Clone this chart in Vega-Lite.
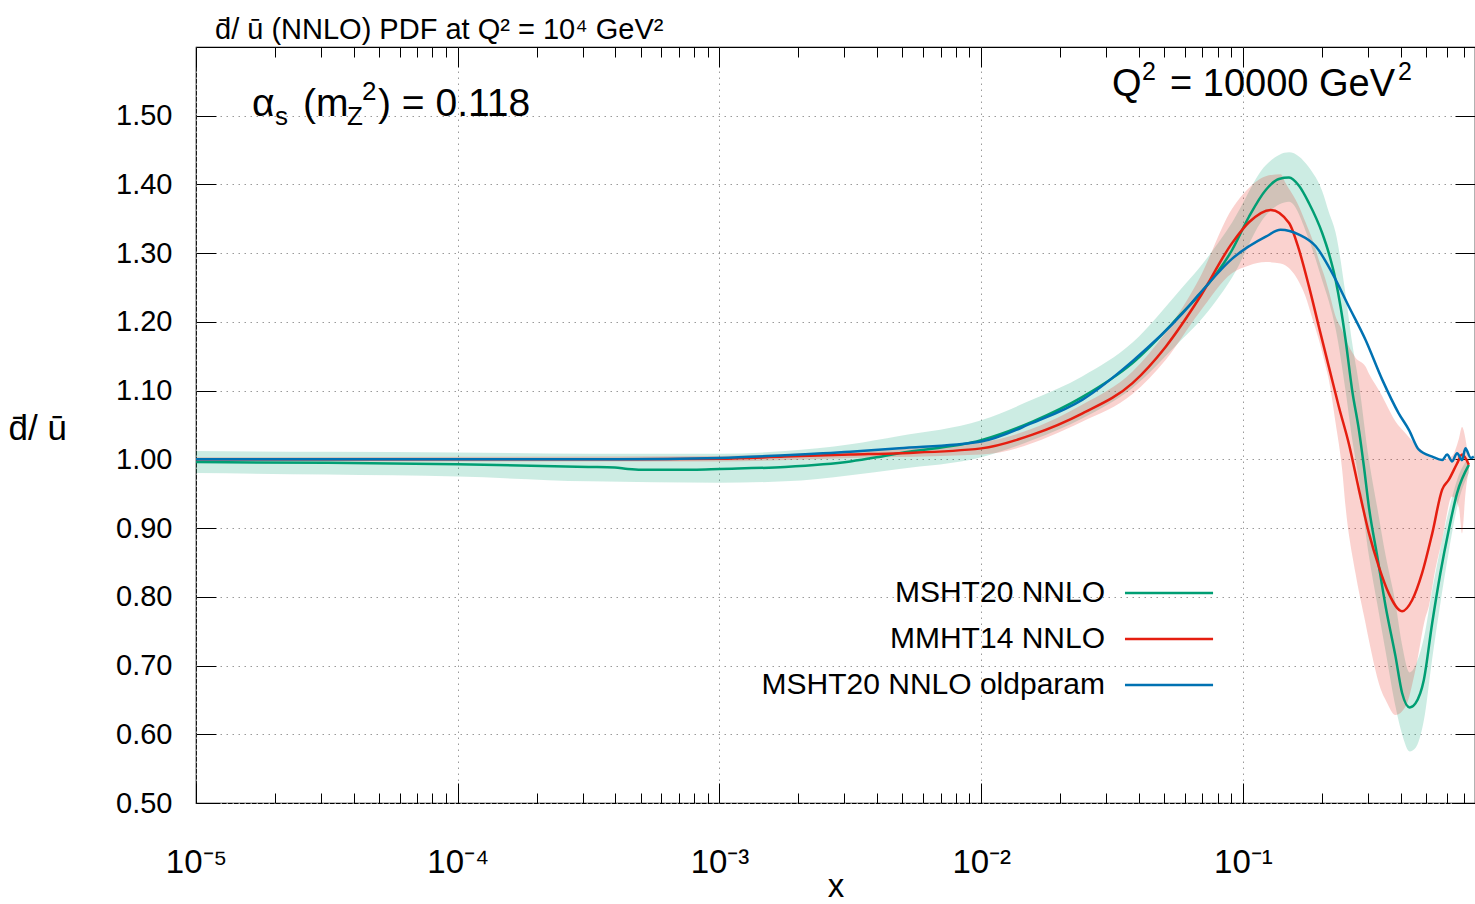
{
  "$schema": "https://vega.github.io/schema/vega-lite/v6.json",
  "autosize": {"type": "none"},
  "padding": {"left": 196, "top": 47, "right": 0, "bottom": 101},
  "width": 1279,
  "height": 756,
  "title": {"text": "d\u0304/ \u016b (NNLO) PDF at Q\u00b2 = 10\u2074 GeV\u00b2", "anchor": "start", "frame": "group", "dx": 19, "offset": -21, "baseline": "alphabetic", "fontSize": 29, "fontWeight": "normal", "color": "black", "font": "Liberation Sans"},
  "config": {
    "view": {"stroke": "black", "strokeWidth": 1.2},
    "axis": {"labelFont": "Liberation Sans", "titleFont": "Liberation Sans", "labelColor": "black", "titleColor": "black", "titleFontWeight": "normal"},
    "text": {"font": "Liberation Sans", "color": "black"}
  },
  "datasets": {
    "curves": [
      {"series": "MSHT20 NNLO", "x": 1e-5, "y": 0.996},
      {"series": "MSHT20 NNLO", "x": 3.162e-5, "y": 0.995},
      {"series": "MSHT20 NNLO", "x": 1e-4, "y": 0.993},
      {"series": "MSHT20 NNLO", "x": 3.162e-4, "y": 0.989},
      {"series": "MSHT20 NNLO", "x": 3.981e-4, "y": 0.988},
      {"series": "MSHT20 NNLO", "x": 4.467e-4, "y": 0.986},
      {"series": "MSHT20 NNLO", "x": 5.012e-4, "y": 0.985},
      {"series": "MSHT20 NNLO", "x": 7.943e-4, "y": 0.985},
      {"series": "MSHT20 NNLO", "x": 1e-3, "y": 0.986},
      {"series": "MSHT20 NNLO", "x": 1.778e-3, "y": 0.989},
      {"series": "MSHT20 NNLO", "x": 3.162e-3, "y": 0.997},
      {"series": "MSHT20 NNLO", "x": 3.981e-3, "y": 1.003},
      {"series": "MSHT20 NNLO", "x": 4.864e-3, "y": 1.009},
      {"series": "MSHT20 NNLO", "x": 0.01, "y": 1.028},
      {"series": "MSHT20 NNLO", "x": 0.0157, "y": 1.055},
      {"series": "MSHT20 NNLO", "x": 0.02438, "y": 1.091},
      {"series": "MSHT20 NNLO", "x": 0.03784, "y": 1.140},
      {"series": "MSHT20 NNLO", "x": 0.05861, "y": 1.213},
      {"series": "MSHT20 NNLO", "x": 0.06792, "y": 1.239},
      {"series": "MSHT20 NNLO", "x": 0.09099, "y": 1.305},
      {"series": "MSHT20 NNLO", "x": 0.1054, "y": 1.353},
      {"series": "MSHT20 NNLO", "x": 0.1222, "y": 1.392},
      {"series": "MSHT20 NNLO", "x": 0.1371, "y": 1.408},
      {"series": "MSHT20 NNLO", "x": 0.15, "y": 1.410},
      {"series": "MSHT20 NNLO", "x": 0.1637, "y": 1.398},
      {"series": "MSHT20 NNLO", "x": 0.1786, "y": 1.373},
      {"series": "MSHT20 NNLO", "x": 0.2009, "y": 1.329},
      {"series": "MSHT20 NNLO", "x": 0.2128, "y": 1.300},
      {"series": "MSHT20 NNLO", "x": 0.2259, "y": 1.261},
      {"series": "MSHT20 NNLO", "x": 0.236, "y": 1.222},
      {"series": "MSHT20 NNLO", "x": 0.2466, "y": 1.174},
      {"series": "MSHT20 NNLO", "x": 0.2612, "y": 1.101},
      {"series": "MSHT20 NNLO", "x": 0.2773, "y": 1.043},
      {"series": "MSHT20 NNLO", "x": 0.2897, "y": 0.990},
      {"series": "MSHT20 NNLO", "x": 0.3027, "y": 0.931},
      {"series": "MSHT20 NNLO", "x": 0.3258, "y": 0.859},
      {"series": "MSHT20 NNLO", "x": 0.3508, "y": 0.786},
      {"series": "MSHT20 NNLO", "x": 0.3828, "y": 0.713},
      {"series": "MSHT20 NNLO", "x": 0.4055, "y": 0.660},
      {"series": "MSHT20 NNLO", "x": 0.4335, "y": 0.639},
      {"series": "MSHT20 NNLO", "x": 0.456, "y": 0.645},
      {"series": "MSHT20 NNLO", "x": 0.4909, "y": 0.679},
      {"series": "MSHT20 NNLO", "x": 0.5284, "y": 0.762},
      {"series": "MSHT20 NNLO", "x": 0.5675, "y": 0.834},
      {"series": "MSHT20 NNLO", "x": 0.6109, "y": 0.897},
      {"series": "MSHT20 NNLO", "x": 0.6577, "y": 0.951},
      {"series": "MSHT20 NNLO", "x": 0.7295, "y": 0.992},

      {"series": "MMHT14 NNLO", "x": 1e-5, "y": 1.000},
      {"series": "MMHT14 NNLO", "x": 1e-4, "y": 1.000},
      {"series": "MMHT14 NNLO", "x": 3.981e-4, "y": 1.000},
      {"series": "MMHT14 NNLO", "x": 1e-3, "y": 1.001},
      {"series": "MMHT14 NNLO", "x": 1.778e-3, "y": 1.004},
      {"series": "MMHT14 NNLO", "x": 3.162e-3, "y": 1.007},
      {"series": "MMHT14 NNLO", "x": 4.864e-3, "y": 1.009},
      {"series": "MMHT14 NNLO", "x": 0.01, "y": 1.016},
      {"series": "MMHT14 NNLO", "x": 0.0157, "y": 1.036},
      {"series": "MMHT14 NNLO", "x": 0.02438, "y": 1.067},
      {"series": "MMHT14 NNLO", "x": 0.03784, "y": 1.111},
      {"series": "MMHT14 NNLO", "x": 0.0507, "y": 1.164},
      {"series": "MMHT14 NNLO", "x": 0.06792, "y": 1.234},
      {"series": "MMHT14 NNLO", "x": 0.09099, "y": 1.315},
      {"series": "MMHT14 NNLO", "x": 0.1054, "y": 1.345},
      {"series": "MMHT14 NNLO", "x": 0.1276, "y": 1.363},
      {"series": "MMHT14 NNLO", "x": 0.15, "y": 1.344},
      {"series": "MMHT14 NNLO", "x": 0.1637, "y": 1.305},
      {"series": "MMHT14 NNLO", "x": 0.1786, "y": 1.252},
      {"series": "MMHT14 NNLO", "x": 0.195, "y": 1.193},
      {"series": "MMHT14 NNLO", "x": 0.2128, "y": 1.135},
      {"series": "MMHT14 NNLO", "x": 0.2323, "y": 1.077},
      {"series": "MMHT14 NNLO", "x": 0.2541, "y": 1.022},
      {"series": "MMHT14 NNLO", "x": 0.2773, "y": 0.956},
      {"series": "MMHT14 NNLO", "x": 0.3027, "y": 0.893},
      {"series": "MMHT14 NNLO", "x": 0.3304, "y": 0.844},
      {"series": "MMHT14 NNLO", "x": 0.3606, "y": 0.805},
      {"series": "MMHT14 NNLO", "x": 0.4055, "y": 0.779},
      {"series": "MMHT14 NNLO", "x": 0.4426, "y": 0.795},
      {"series": "MMHT14 NNLO", "x": 0.4831, "y": 0.834},
      {"series": "MMHT14 NNLO", "x": 0.5284, "y": 0.892},
      {"series": "MMHT14 NNLO", "x": 0.5768, "y": 0.956},
      {"series": "MMHT14 NNLO", "x": 0.6109, "y": 0.970},
      {"series": "MMHT14 NNLO", "x": 0.6577, "y": 0.994},
      {"series": "MMHT14 NNLO", "x": 0.6871, "y": 1.007},
      {"series": "MMHT14 NNLO", "x": 0.7295, "y": 0.992},

      {"series": "MSHT20 NNLO oldparam", "x": 1e-5, "y": 1.000},
      {"series": "MSHT20 NNLO oldparam", "x": 1e-4, "y": 1.000},
      {"series": "MSHT20 NNLO oldparam", "x": 3.981e-4, "y": 1.000},
      {"series": "MSHT20 NNLO oldparam", "x": 1e-3, "y": 1.002},
      {"series": "MSHT20 NNLO oldparam", "x": 1.778e-3, "y": 1.006},
      {"series": "MSHT20 NNLO oldparam", "x": 3.162e-3, "y": 1.011},
      {"series": "MSHT20 NNLO oldparam", "x": 4.864e-3, "y": 1.016},
      {"series": "MSHT20 NNLO oldparam", "x": 0.01, "y": 1.026},
      {"series": "MSHT20 NNLO oldparam", "x": 0.0157, "y": 1.053},
      {"series": "MSHT20 NNLO oldparam", "x": 0.02438, "y": 1.087},
      {"series": "MSHT20 NNLO oldparam", "x": 0.03784, "y": 1.143},
      {"series": "MSHT20 NNLO oldparam", "x": 0.05861, "y": 1.212},
      {"series": "MSHT20 NNLO oldparam", "x": 0.06792, "y": 1.240},
      {"series": "MSHT20 NNLO oldparam", "x": 0.09099, "y": 1.292},
      {"series": "MSHT20 NNLO oldparam", "x": 0.1222, "y": 1.324},
      {"series": "MSHT20 NNLO oldparam", "x": 0.1393, "y": 1.334},
      {"series": "MSHT20 NNLO oldparam", "x": 0.1637, "y": 1.327},
      {"series": "MSHT20 NNLO oldparam", "x": 0.1897, "y": 1.310},
      {"series": "MSHT20 NNLO oldparam", "x": 0.2193, "y": 1.271},
      {"series": "MSHT20 NNLO oldparam", "x": 0.2541, "y": 1.222},
      {"series": "MSHT20 NNLO oldparam", "x": 0.2938, "y": 1.174},
      {"series": "MSHT20 NNLO oldparam", "x": 0.3404, "y": 1.116},
      {"series": "MSHT20 NNLO oldparam", "x": 0.3936, "y": 1.067},
      {"series": "MSHT20 NNLO oldparam", "x": 0.4305, "y": 1.043},
      {"series": "MSHT20 NNLO oldparam", "x": 0.4699, "y": 1.014},
      {"series": "MSHT20 NNLO oldparam", "x": 0.5284, "y": 1.004},
      {"series": "MSHT20 NNLO oldparam", "x": 0.5768, "y": 0.999},
      {"series": "MSHT20 NNLO oldparam", "x": 0.6026, "y": 1.007},
      {"series": "MSHT20 NNLO oldparam", "x": 0.6295, "y": 0.997},
      {"series": "MSHT20 NNLO oldparam", "x": 0.6577, "y": 1.009},
      {"series": "MSHT20 NNLO oldparam", "x": 0.6871, "y": 0.999},
      {"series": "MSHT20 NNLO oldparam", "x": 0.7079, "y": 1.016},
      {"series": "MSHT20 NNLO oldparam", "x": 0.7413, "y": 1.002},
      {"series": "MSHT20 NNLO oldparam", "x": 0.7621, "y": 1.004}
    ],
    "bands": [
      {"series": "MSHT20 NNLO", "x": 1e-5, "lo": 0.980, "hi": 1.012},
      {"series": "MSHT20 NNLO", "x": 3.162e-5, "lo": 0.978, "hi": 1.011},
      {"series": "MSHT20 NNLO", "x": 1e-4, "lo": 0.975, "hi": 1.010},
      {"series": "MSHT20 NNLO", "x": 3.162e-4, "lo": 0.968, "hi": 1.008},
      {"series": "MSHT20 NNLO", "x": 1e-3, "lo": 0.966, "hi": 1.008},
      {"series": "MSHT20 NNLO", "x": 1.778e-3, "lo": 0.968, "hi": 1.012},
      {"series": "MSHT20 NNLO", "x": 3.162e-3, "lo": 0.977, "hi": 1.022},
      {"series": "MSHT20 NNLO", "x": 4.864e-3, "lo": 0.986, "hi": 1.034},
      {"series": "MSHT20 NNLO", "x": 0.01, "lo": 1.003, "hi": 1.057},
      {"series": "MSHT20 NNLO", "x": 0.0157, "lo": 1.028, "hi": 1.087},
      {"series": "MSHT20 NNLO", "x": 0.02438, "lo": 1.060, "hi": 1.121},
      {"series": "MSHT20 NNLO", "x": 0.03784, "lo": 1.104, "hi": 1.170},
      {"series": "MSHT20 NNLO", "x": 0.05861, "lo": 1.175, "hi": 1.250},
      {"series": "MSHT20 NNLO", "x": 0.06792, "lo": 1.200, "hi": 1.278},
      {"series": "MSHT20 NNLO", "x": 0.09099, "lo": 1.265, "hi": 1.345},
      {"series": "MSHT20 NNLO", "x": 0.1222, "lo": 1.355, "hi": 1.428},
      {"series": "MSHT20 NNLO", "x": 0.15, "lo": 1.375, "hi": 1.447},
      {"series": "MSHT20 NNLO", "x": 0.1786, "lo": 1.32, "hi": 1.425},
      {"series": "MSHT20 NNLO", "x": 0.2009, "lo": 1.26, "hi": 1.39},
      {"series": "MSHT20 NNLO", "x": 0.2128, "lo": 1.23, "hi": 1.36},
      {"series": "MSHT20 NNLO", "x": 0.2259, "lo": 1.19, "hi": 1.33},
      {"series": "MSHT20 NNLO", "x": 0.2466, "lo": 1.10, "hi": 1.24},
      {"series": "MSHT20 NNLO", "x": 0.2612, "lo": 1.03, "hi": 1.17},
      {"series": "MSHT20 NNLO", "x": 0.2773, "lo": 0.97, "hi": 1.11},
      {"series": "MSHT20 NNLO", "x": 0.3027, "lo": 0.86, "hi": 1.00},
      {"series": "MSHT20 NNLO", "x": 0.3258, "lo": 0.79, "hi": 0.93},
      {"series": "MSHT20 NNLO", "x": 0.3508, "lo": 0.72, "hi": 0.86},
      {"series": "MSHT20 NNLO", "x": 0.3828, "lo": 0.64, "hi": 0.79},
      {"series": "MSHT20 NNLO", "x": 0.4055, "lo": 0.60, "hi": 0.73},
      {"series": "MSHT20 NNLO", "x": 0.4335, "lo": 0.575, "hi": 0.69},
      {"series": "MSHT20 NNLO", "x": 0.456, "lo": 0.58, "hi": 0.70},
      {"series": "MSHT20 NNLO", "x": 0.4909, "lo": 0.62, "hi": 0.74},
      {"series": "MSHT20 NNLO", "x": 0.5284, "lo": 0.71, "hi": 0.81},
      {"series": "MSHT20 NNLO", "x": 0.5675, "lo": 0.79, "hi": 0.87},
      {"series": "MSHT20 NNLO", "x": 0.6109, "lo": 0.865, "hi": 0.925},
      {"series": "MSHT20 NNLO", "x": 0.6577, "lo": 0.93, "hi": 0.97},
      {"series": "MSHT20 NNLO", "x": 0.7295, "lo": 0.98, "hi": 1.003},

      {"series": "MMHT14 NNLO", "x": 1e-5, "lo": 0.997, "hi": 1.003},
      {"series": "MMHT14 NNLO", "x": 1e-3, "lo": 0.997, "hi": 1.005},
      {"series": "MMHT14 NNLO", "x": 3.162e-3, "lo": 1.002, "hi": 1.012},
      {"series": "MMHT14 NNLO", "x": 0.01, "lo": 1.007, "hi": 1.025},
      {"series": "MMHT14 NNLO", "x": 0.02438, "lo": 1.055, "hi": 1.080},
      {"series": "MMHT14 NNLO", "x": 0.03784, "lo": 1.095, "hi": 1.128},
      {"series": "MMHT14 NNLO", "x": 0.0507, "lo": 1.145, "hi": 1.185},
      {"series": "MMHT14 NNLO", "x": 0.06792, "lo": 1.213, "hi": 1.262},
      {"series": "MMHT14 NNLO", "x": 0.09099, "lo": 1.271, "hi": 1.365},
      {"series": "MMHT14 NNLO", "x": 0.1054, "lo": 1.282, "hi": 1.395},
      {"series": "MMHT14 NNLO", "x": 0.1222, "lo": 1.287, "hi": 1.412},
      {"series": "MMHT14 NNLO", "x": 0.1393, "lo": 1.285, "hi": 1.415},
      {"series": "MMHT14 NNLO", "x": 0.1455, "lo": 1.282, "hi": 1.402},
      {"series": "MMHT14 NNLO", "x": 0.1637, "lo": 1.258, "hi": 1.368},
      {"series": "MMHT14 NNLO", "x": 0.1734, "lo": 1.237, "hi": 1.345},
      {"series": "MMHT14 NNLO", "x": 0.1841, "lo": 1.205, "hi": 1.320},
      {"series": "MMHT14 NNLO", "x": 0.195, "lo": 1.174, "hi": 1.290},
      {"series": "MMHT14 NNLO", "x": 0.207, "lo": 1.135, "hi": 1.261},
      {"series": "MMHT14 NNLO", "x": 0.2128, "lo": 1.116, "hi": 1.245},
      {"series": "MMHT14 NNLO", "x": 0.2259, "lo": 1.053, "hi": 1.208},
      {"series": "MMHT14 NNLO", "x": 0.2393, "lo": 0.985, "hi": 1.188},
      {"series": "MMHT14 NNLO", "x": 0.2466, "lo": 0.931, "hi": 1.175},
      {"series": "MMHT14 NNLO", "x": 0.2692, "lo": 0.834, "hi": 1.148},
      {"series": "MMHT14 NNLO", "x": 0.2938, "lo": 0.762, "hi": 1.135},
      {"series": "MMHT14 NNLO", "x": 0.3027, "lo": 0.737, "hi": 1.125},
      {"series": "MMHT14 NNLO", "x": 0.3404, "lo": 0.660, "hi": 1.092},
      {"series": "MMHT14 NNLO", "x": 0.3508, "lo": 0.650, "hi": 1.082},
      {"series": "MMHT14 NNLO", "x": 0.3828, "lo": 0.628, "hi": 1.055},
      {"series": "MMHT14 NNLO", "x": 0.4178, "lo": 0.640, "hi": 1.038},
      {"series": "MMHT14 NNLO", "x": 0.456, "lo": 0.694, "hi": 1.022},
      {"series": "MMHT14 NNLO", "x": 0.4977, "lo": 0.770, "hi": 1.009},
      {"series": "MMHT14 NNLO", "x": 0.5129, "lo": 0.786, "hi": 1.005},
      {"series": "MMHT14 NNLO", "x": 0.5433, "lo": 0.840, "hi": 1.000},
      {"series": "MMHT14 NNLO", "x": 0.5768, "lo": 0.883, "hi": 1.000},
      {"series": "MMHT14 NNLO", "x": 0.6295, "lo": 0.946, "hi": 1.005},
      {"series": "MMHT14 NNLO", "x": 0.6683, "lo": 0.930, "hi": 1.030},
      {"series": "MMHT14 NNLO", "x": 0.6871, "lo": 0.892, "hi": 1.047},
      {"series": "MMHT14 NNLO", "x": 0.7079, "lo": 0.950, "hi": 1.030},
      {"series": "MMHT14 NNLO", "x": 0.7295, "lo": 0.985, "hi": 0.995}
    ]
  },
  "resolve": {"axis": {"x": "independent", "y": "independent"}},
  "layer": [
    {
      "data": {"name": "bands"},
      "transform": [{"filter": "datum.series === 'MSHT20 NNLO'"}],
      "mark": {"type": "area", "color": "#009e73", "opacity": 0.2, "clip": true, "interpolate": "monotone"},
      "encoding": {
        "x": {"field": "x", "type": "quantitative", "scale": {"type": "log", "domain": [1e-5, 0.77], "nice": false},
          "axis": {"orient": "bottom", "values": [1e-5, 1e-4, 1e-3, 0.01, 0.1],
            "labelExpr": "datum.value < 5e-5 ? '10\u207b\u2075' : datum.value < 5e-4 ? '10\u207b\u2074' : datum.value < 5e-3 ? '10\u207b\u00b3' : datum.value < 5e-2 ? '10\u207b\u00b2' : '10\u207b\u00b9'",
            "labelFontSize": 33, "labelBaseline": "alphabetic", "labelPadding": 69, "labelFlush": false, "labelOverlap": false,
            "ticks": false, "domain": false, "grid": true, "gridDash": [1.5, 4.5], "gridColor": "#9a9a9a", "gridWidth": 1,
            "title": "x", "titleFontSize": 33, "titleBaseline": "alphabetic", "titleY": 93}},
        "y": {"field": "lo", "type": "quantitative", "scale": {"domain": [0.5, 1.6], "nice": false, "zero": false},
          "axis": {"orient": "left", "values": [0.5, 0.6, 0.7, 0.8, 0.9, 1.0, 1.1, 1.2, 1.3, 1.4, 1.5], "format": ".2f",
            "labelFontSize": 29, "labelPadding": 24, "labelFlush": false, "labelOverlap": false,
            "ticks": false, "domain": false, "grid": true, "gridDash": [1.5, 4.5], "gridColor": "#9a9a9a", "gridWidth": 1,
            "title": "d\u0304/ \u016b", "titleAngle": 0, "titleFontSize": 35, "titleAlign": "left", "titleBaseline": "middle", "titleX": -188, "titleY": 381}},
        "y2": {"field": "hi"}
      }
    },
    {
      "data": {"name": "bands"},
      "transform": [{"filter": "datum.series === 'MMHT14 NNLO'"}],
      "mark": {"type": "area", "color": "#e51e10", "opacity": 0.2, "clip": true, "interpolate": "monotone"},
      "encoding": {
        "x": {"field": "x", "type": "quantitative",
          "axis": {"orient": "bottom", "values": [1e-5,2e-5,3e-5,4e-5,5e-5,6e-5,7e-5,8e-5,9e-5,1e-4,2e-4,3e-4,4e-4,5e-4,6e-4,7e-4,8e-4,9e-4,1e-3,2e-3,3e-3,4e-3,5e-3,6e-3,7e-3,8e-3,9e-3,0.01,0.02,0.03,0.04,0.05,0.06,0.07,0.08,0.09,0.1,0.2,0.3,0.4,0.5,0.6,0.7],
            "labels": false, "domain": false, "grid": false, "ticks": true, "tickColor": "black", "tickWidth": 1,
            "tickSize": {"condition": {"test": "abs(log(datum.value)/LN10 - round(log(datum.value)/LN10)) < 0.001", "value": -20}, "value": -10},
            "title": null}},
        "y": {"field": "lo", "type": "quantitative",
          "axis": {"orient": "left", "values": [0.5, 0.6, 0.7, 0.8, 0.9, 1.0, 1.1, 1.2, 1.3, 1.4, 1.5],
            "labels": false, "domain": false, "grid": false, "ticks": true, "tickColor": "black", "tickWidth": 1, "tickSize": -20, "title": null}},
        "y2": {"field": "hi"}
      }
    },
    {
      "data": {"name": "curves"},
      "transform": [{"filter": "datum.series === 'MSHT20 NNLO'"}],
      "mark": {"type": "line", "color": "#009e73", "strokeWidth": 2.5, "clip": true, "interpolate": "monotone"},
      "encoding": {
        "x": {"field": "x", "type": "quantitative",
          "axis": {"orient": "top", "values": [1e-5,2e-5,3e-5,4e-5,5e-5,6e-5,7e-5,8e-5,9e-5,1e-4,2e-4,3e-4,4e-4,5e-4,6e-4,7e-4,8e-4,9e-4,1e-3,2e-3,3e-3,4e-3,5e-3,6e-3,7e-3,8e-3,9e-3,0.01,0.02,0.03,0.04,0.05,0.06,0.07,0.08,0.09,0.1,0.2,0.3,0.4,0.5,0.6,0.7],
            "labels": false, "domain": false, "grid": false, "ticks": true, "tickColor": "black", "tickWidth": 1,
            "tickSize": {"condition": {"test": "abs(log(datum.value)/LN10 - round(log(datum.value)/LN10)) < 0.001", "value": -20}, "value": -10},
            "title": null}},
        "y": {"field": "y", "type": "quantitative",
          "axis": {"orient": "right", "values": [0.5, 0.6, 0.7, 0.8, 0.9, 1.0, 1.1, 1.2, 1.3, 1.4, 1.5],
            "labels": false, "domain": false, "grid": false, "ticks": true, "tickColor": "black", "tickWidth": 1, "tickSize": -20, "title": null}}
      }
    },
    {
      "data": {"name": "curves"},
      "transform": [{"filter": "datum.series === 'MMHT14 NNLO'"}],
      "mark": {"type": "line", "color": "#e51e10", "strokeWidth": 2.5, "clip": true, "interpolate": "monotone"},
      "encoding": {
        "x": {"field": "x", "type": "quantitative", "axis": null},
        "y": {"field": "y", "type": "quantitative", "axis": null}
      }
    },
    {
      "data": {"name": "curves"},
      "transform": [{"filter": "datum.series === 'MSHT20 NNLO oldparam'"}],
      "mark": {"type": "line", "color": "#0072b2", "strokeWidth": 2.5, "clip": true, "interpolate": "monotone"},
      "encoding": {
        "x": {"field": "x", "type": "quantitative", "axis": null},
        "y": {"field": "y", "type": "quantitative", "axis": null}
      }
    },
    {
      "data": {"values": [{}]},
      "mark": {"type": "text", "text": "MSHT20 NNLO", "align": "right", "baseline": "middle", "fontSize": 30},
      "encoding": {"x": {"datum": 0.02971, "type": "quantitative", "axis": null}, "y": {"datum": 0.8057, "type": "quantitative", "axis": null}}
    },
    {
      "data": {"values": [{}]},
      "mark": {"type": "text", "text": "MMHT14 NNLO", "align": "right", "baseline": "middle", "fontSize": 30},
      "encoding": {"x": {"datum": 0.02971, "type": "quantitative", "axis": null}, "y": {"datum": 0.7387, "type": "quantitative", "axis": null}}
    },
    {
      "data": {"values": [{}]},
      "mark": {"type": "text", "text": "MSHT20 NNLO oldparam", "align": "right", "baseline": "middle", "fontSize": 30},
      "encoding": {"x": {"datum": 0.02971, "type": "quantitative", "axis": null}, "y": {"datum": 0.6718, "type": "quantitative", "axis": null}}
    },
    {
      "data": {"values": [{}]},
      "mark": {"type": "rule", "color": "#009e73", "strokeWidth": 2.5},
      "encoding": {"x": {"datum": 0.03542, "type": "quantitative", "axis": null}, "x2": {"datum": 0.07686}, "y": {"datum": 0.8057, "type": "quantitative", "axis": null}}
    },
    {
      "data": {"values": [{}]},
      "mark": {"type": "rule", "color": "#e51e10", "strokeWidth": 2.5},
      "encoding": {"x": {"datum": 0.03542, "type": "quantitative", "axis": null}, "x2": {"datum": 0.07686}, "y": {"datum": 0.7387, "type": "quantitative", "axis": null}}
    },
    {
      "data": {"values": [{}]},
      "mark": {"type": "rule", "color": "#0072b2", "strokeWidth": 2.5},
      "encoding": {"x": {"datum": 0.03542, "type": "quantitative", "axis": null}, "x2": {"datum": 0.07686}, "y": {"datum": 0.6718, "type": "quantitative", "axis": null}}
    },
    {
      "data": {"values": [{}]},
      "mark": {"type": "text", "text": "\u03b1", "align": "left", "baseline": "alphabetic", "fontSize": 39},
      "encoding": {"x": {"datum": 1.637e-5, "type": "quantitative", "axis": null}, "y": {"datum": 1.5, "type": "quantitative", "axis": null}}
    },
    {
      "data": {"values": [{}]},
      "mark": {"type": "text", "text": "s", "align": "left", "baseline": "alphabetic", "fontSize": 26, "dx": 23, "dy": 9},
      "encoding": {"x": {"datum": 1.637e-5, "type": "quantitative", "axis": null}, "y": {"datum": 1.5, "type": "quantitative", "axis": null}}
    },
    {
      "data": {"values": [{}]},
      "mark": {"type": "text", "text": "(m", "align": "left", "baseline": "alphabetic", "fontSize": 39, "dx": 51},
      "encoding": {"x": {"datum": 1.637e-5, "type": "quantitative", "axis": null}, "y": {"datum": 1.5, "type": "quantitative", "axis": null}}
    },
    {
      "data": {"values": [{}]},
      "mark": {"type": "text", "text": "Z", "align": "left", "baseline": "alphabetic", "fontSize": 26, "dx": 95, "dy": 9},
      "encoding": {"x": {"datum": 1.637e-5, "type": "quantitative", "axis": null}, "y": {"datum": 1.5, "type": "quantitative", "axis": null}}
    },
    {
      "data": {"values": [{}]},
      "mark": {"type": "text", "text": "2", "align": "left", "baseline": "alphabetic", "fontSize": 26, "dx": 110, "dy": -16},
      "encoding": {"x": {"datum": 1.637e-5, "type": "quantitative", "axis": null}, "y": {"datum": 1.5, "type": "quantitative", "axis": null}}
    },
    {
      "data": {"values": [{}]},
      "mark": {"type": "text", "text": ") = 0.118", "align": "left", "baseline": "alphabetic", "fontSize": 39, "dx": 126},
      "encoding": {"x": {"datum": 1.637e-5, "type": "quantitative", "axis": null}, "y": {"datum": 1.5, "type": "quantitative", "axis": null}}
    },
    {
      "data": {"values": [{}]},
      "mark": {"type": "text", "text": "Q", "align": "left", "baseline": "alphabetic", "fontSize": 38},
      "encoding": {"x": {"datum": 0.0316, "type": "quantitative", "axis": null}, "y": {"datum": 1.5291, "type": "quantitative", "axis": null}}
    },
    {
      "data": {"values": [{}]},
      "mark": {"type": "text", "text": "2", "align": "left", "baseline": "alphabetic", "fontSize": 25, "dx": 30, "dy": -16},
      "encoding": {"x": {"datum": 0.0316, "type": "quantitative", "axis": null}, "y": {"datum": 1.5291, "type": "quantitative", "axis": null}}
    },
    {
      "data": {"values": [{}]},
      "mark": {"type": "text", "text": "= 10000 GeV", "align": "left", "baseline": "alphabetic", "fontSize": 38, "dx": 58},
      "encoding": {"x": {"datum": 0.0316, "type": "quantitative", "axis": null}, "y": {"datum": 1.5291, "type": "quantitative", "axis": null}}
    },
    {
      "data": {"values": [{}]},
      "mark": {"type": "text", "text": "2", "align": "left", "baseline": "alphabetic", "fontSize": 25, "dx": 286, "dy": -16},
      "encoding": {"x": {"datum": 0.0316, "type": "quantitative", "axis": null}, "y": {"datum": 1.5291, "type": "quantitative", "axis": null}}
    }
  ]
}
